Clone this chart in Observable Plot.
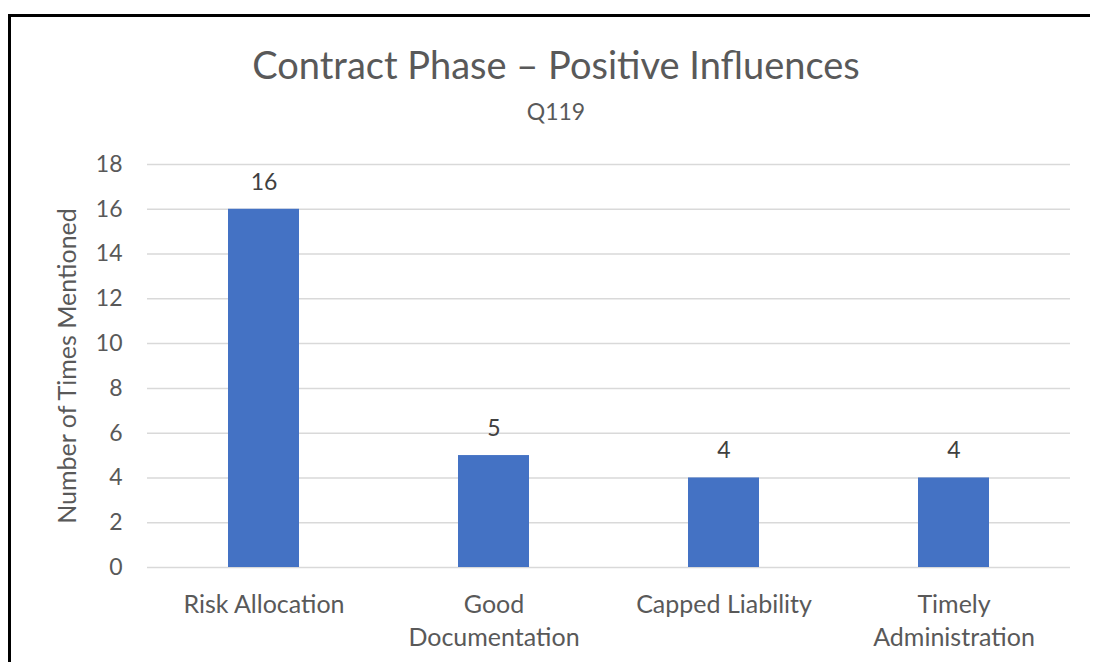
<!DOCTYPE html>
<html>
<head>
<meta charset="utf-8">
<script src="https://cdn.jsdelivr.net/npm/d3@7"></script>
<script src="https://cdn.jsdelivr.net/npm/@observablehq/plot@0.6"></script>
<style>
  html, body { margin: 0; background: #fff; overflow: hidden; }
  body { width: 1095px; height: 662px; position: relative; font-family: Lato, "Open Sans", sans-serif; }
  #bt { position: absolute; left: 8px; top: 14px; width: 1082px; height: 3px; background: #000; }
  #bl { position: absolute; left: 8px; top: 14px; width: 3px; height: 648px; background: #000; }
  .title { position: absolute; left: 0; width: 1112px; text-align: center; color: #595959; line-height: 1; white-space: nowrap; }
  #t1 { top: 45px; font-size: 38px; }
  #t2 { top: 100px; font-size: 23px; }
  #chart { position: absolute; left: 0; top: 140px; }
</style>
</head>
<body>
<div id="bt"></div>
<div id="bl"></div>
<div class="title" id="t1">Contract Phase – Positive Influences</div>
<div class="title" id="t2">Q119</div>
<div id="chart"></div>
<script>
const categories = ["Risk Allocation", "Good Documentation", "Capped Liability", "Timely Administration"];
const categoryLabels = ["Risk Allocation", "Good\nDocumentation", "Capped Liability", "Timely\nAdministration"];
const counts = [16, 5, 4, 4];
const yTicks = [0, 2, 4, 6, 8, 10, 12, 14, 16, 18];

const data = categories.map((c, i) => ({category: c, count: counts[i]}));
const labelOf = new Map(categories.map((c, i) => [c, categoryLabels[i]]));

const chart = Plot.plot({
  width: 1095,
  height: 522,
  marginLeft: 147,
  marginRight: 25,
  marginTop: 24,
  marginBottom: 95,
  style: {fontFamily: "Lato, 'Open Sans', sans-serif", color: "#595959", background: "transparent"},
  x: {domain: categories, paddingInner: 0.69, paddingOuter: 0.345, label: null},
  y: {domain: [0, 18], label: null},
  marks: [
    Plot.ruleY(yTicks, {stroke: "#d9d9d9", strokeWidth: 1.5}),
    Plot.barY(data, {x: "category", y: "count", fill: "#4472C4"}),
    Plot.text(data, {x: "category", y: "count", text: d => String(d.count), dy: -27, fontSize: 23, fill: "#404040"}),
    Plot.axisY({ticks: yTicks, tickSize: 0, tickPadding: 25, fontSize: 23, label: "Number of Times Mentioned", labelAnchor: "center", labelArrow: false, labelOffset: 89}),
    Plot.axisX({tickSize: 0, tickPadding: 22, fontSize: 25, lineHeight: 1.32, tickFormat: d => labelOf.get(d), label: null})
  ]
});
chart.querySelectorAll("g[aria-label='y-axis label'] text").forEach(t => t.setAttribute("font-size", "25"));
document.getElementById("chart").appendChild(chart);
</script>
</body>
</html>
